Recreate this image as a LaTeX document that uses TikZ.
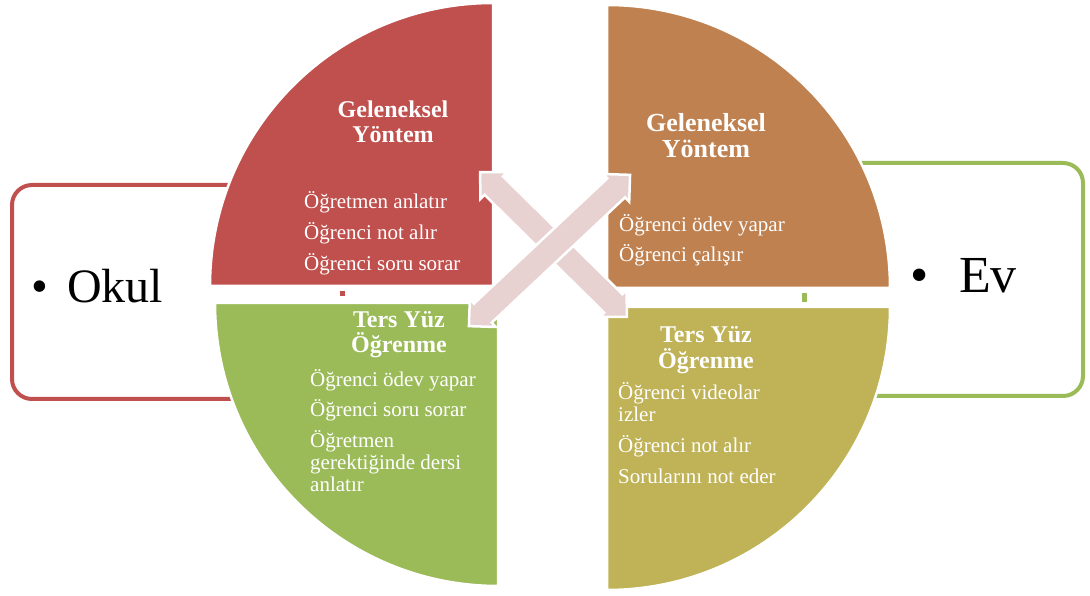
\documentclass[tikz,border=0pt]{standalone}
\usepackage{fontspec}
\setmainfont{Liberation Serif}

\definecolor{qred}{HTML}{C0504D}
\definecolor{qgreen}{HTML}{9BBB59}
\definecolor{qorange}{HTML}{C08150}
\definecolor{qolive}{HTML}{C0B256}
\definecolor{arrowpink}{HTML}{E8D1D1}

% double-headed block arrow centred on the origin, pointing along x
% #1 = total length; heads 19 deep and 38 wide, shaft 26 wide
\newcommand{\blockarrow}[1]{%
  \path[xarrow]
    (-#1/2,0) -- ++(19,19) -- ++(0,-6) -- (#1/2-19,13)
    -- ++(0,6) -- (#1/2,0) -- ++(-19,-19) -- ++(0,6)
    -- (-#1/2+19,-13) -- ++(0,-6) -- cycle;}

\begin{document}
\begin{tikzpicture}[x=1pt,y=1pt,
  quad/.style={draw=white, line width=2.5pt},
  sidebox/.style={line width=4pt, rounded corners=20pt},
  xarrow/.style={fill=arrowpink, draw=white, line width=2.5pt, line join=miter},
  qtitle/.style={text=white, font=\bfseries\fontsize{24}{25}\selectfont, anchor=base, inner sep=0pt},
  qtitlebig/.style={qtitle, font=\bfseries\fontsize{26}{27}\selectfont},
  qitem/.style={text=white, font=\fontsize{21}{22}\selectfont, anchor=base west, inner sep=0pt},
  bigword/.style={inner sep=0pt, font=\fontsize{#1}{#1}\selectfont}
]
\useasboundingbox (0,0) rectangle (1090,596);

% side frames (their inner ends disappear behind the circle)
\draw[sidebox, draw=qred] (300,411) -- (12,411) -- (12,197) -- (300,197);
\draw[sidebox, draw=qgreen] (800,433) -- (1083,433) -- (1083,200) -- (800,200);

% four quarter discs
\path[quad, fill=qred]    (493,310) -- (210,310) arc (180:90:283) -- cycle;
\path[quad, fill=qgreen]  (498,293) -- (498,10)  arc (270:180:283) -- cycle;
\path[quad, fill=qorange] (607,308) -- (607,591) arc (90:0:283) -- cycle;
\path[quad, fill=qolive]  (607,289) -- (890,289) arc (0:-90:283) -- cycle;

% small marks in the gaps
\fill[qred]   (339.5,299.5) rectangle (344.5,304.5);
\fill[qgreen] (802,294) rectangle (807,303);

% crossing double arrows
\coordinate (arrA) at (553.5,351.5);
\coordinate (arrB) at (549.5,345.5);
\begin{scope}[shift={(arrA)}, rotate=-44.6]
  \blockarrow{206}
\end{scope}
\begin{scope}[shift={(arrB)}, rotate=43.2]
  \blockarrow{221}
\end{scope}

% side labels
\node[bigword=48, anchor=base] (okb) at (40,293) {\textbullet};
\node[bigword=48, anchor=base west] (okul) at (67,293) {Okul};
\node[bigword=52, anchor=base] (evb) at (920,303) {\textbullet};
\node[bigword=52, anchor=base west] (ev) at (959,303) {Ev};

% top left: traditional, school
\node[qtitle] (rt1) at (393,478) {Geleneksel};
\node[qtitle] (rt2) at (393,453) {Yöntem};
\node[qitem] (ri1) at (304,387) {Öğretmen anlatır};
\node[qitem] (ri2) at (304,356) {Öğrenci not alır};
\node[qitem] (ri3) at (304,325) {Öğrenci soru sorar};

% top right: traditional, home
\node[qtitlebig] (ot1) at (706,464) {Geleneksel};
\node[qtitlebig] (ot2) at (706,438) {Yöntem};
\node[qitem] (oi1) at (619,364) {Öğrenci ödev yapar};
\node[qitem] (oi2) at (619,334) {Öğrenci çalışır};

% bottom left: flipped, school
\node[qtitle] (gt1) at (399,268) {Ters Yüz};
\node[qtitle] (gt2) at (399,243) {Öğrenme};
\node[qitem] (gi1) at (310,209) {Öğrenci ödev yapar};
\node[qitem] (gi2) at (310,179) {Öğrenci soru sorar};
\node[qitem] (gi3) at (310,148) {Öğretmen};
\node[qitem] (gi4) at (310,126) {gerektiğinde dersi};
\node[qitem] (gi5) at (310,104) {anlatır};

% bottom right: flipped, home
\node[qtitle] (lt1) at (706,253) {Ters Yüz};
\node[qtitle] (lt2) at (706,227) {Öğrenme};
\node[qitem] (li1) at (618,196) {Öğrenci videolar};
\node[qitem] (li2) at (618,174) {izler};
\node[qitem] (li3) at (618,143) {Öğrenci not alır};
\node[qitem] (li4) at (618,112) {Sorularını not eder};
\end{tikzpicture}
\end{document}
